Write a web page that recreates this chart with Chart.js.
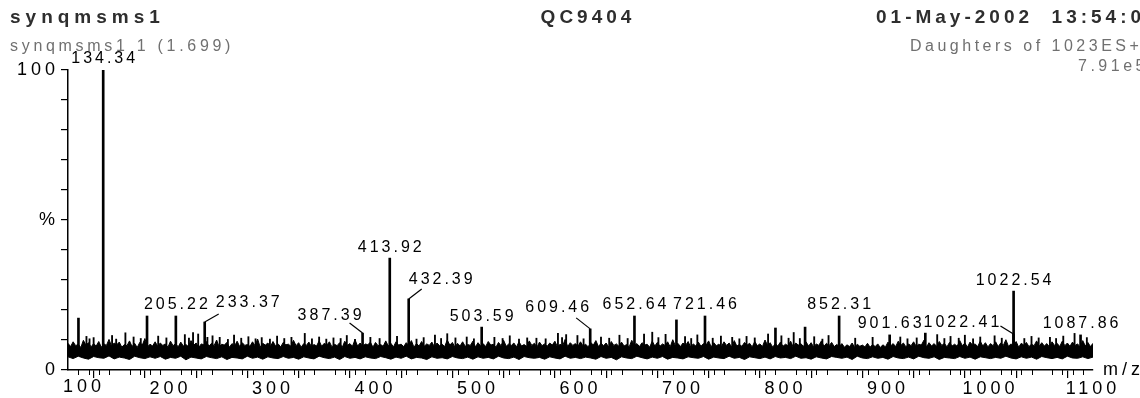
<!DOCTYPE html>
<html>
<head>
<meta charset="utf-8">
<script src="https://cdn.jsdelivr.net/npm/chart.js@4.4.1/dist/chart.umd.min.js"></script>
<style>
  html, body { margin: 0; padding: 0; background: #fff; }
  #wrap { width: 1140px; height: 398px; }
</style>
</head>
<body>
<div id="wrap"><canvas id="spectrum" width="1140" height="398"></canvas></div>
<script>
// noise band, upper edge read every 2.5 m/z from 100 to 1100
const noiseStart = 100;
const noiseTopStep = 2.5;
const noiseTop = [
  8.9, 7.8, 9.4, 8.1, 8.6, 7.5, 9.9, 8.3, 9.1, 7.7, 8.8, 8.0, 9.5, 7.6, 8.7, 8.2, 10.2, 7.9, 9.0, 8.4,
  9.3, 7.6, 8.5, 8.1, 9.7, 7.8, 8.9, 7.5, 9.2, 8.3, 10.5, 7.7, 8.6, 8.0, 9.4, 7.9, 9.0, 8.2, 8.7, 7.6,
  9.6, 8.1, 8.8, 7.7, 9.3, 8.0, 8.5, 7.8, 9.8, 8.2, 9.0, 7.5, 8.7, 8.4, 9.5, 7.9, 8.9, 8.1, 10.0, 7.7,
  8.6, 8.3, 9.2, 7.6, 8.8, 8.0, 9.6, 7.8, 9.1, 8.2, 8.5, 7.9, 9.4, 8.1, 10.3, 7.6, 8.9, 8.3, 9.0, 7.8,
  9.5, 8.0, 8.7, 7.7, 9.2, 8.4, 8.6, 7.9, 9.9, 8.1, 9.1, 7.6, 8.8, 8.2, 9.3, 7.8, 8.5, 8.0, 9.7, 7.9,
  8.9, 8.3, 9.4, 7.7, 8.6, 8.1, 9.1, 7.5, 9.6, 8.2, 8.8, 7.9, 10.1, 8.0, 9.0, 7.8, 8.7, 8.4, 9.3, 7.6,
  9.2, 8.1, 8.5, 7.9, 9.7, 8.0, 8.9, 7.7, 9.4, 8.3, 8.6, 7.8, 9.1, 8.2, 9.8, 7.6, 8.8, 8.0, 9.5, 7.9,
  8.7, 8.2, 9.3, 7.7, 9.0, 8.1, 8.6, 7.8, 10.0, 8.3, 9.2, 7.6, 8.9, 8.0, 9.4, 7.9, 8.5, 8.2, 9.6, 7.7,
  9.1, 8.0, 8.8, 7.8, 9.5, 8.3, 8.6, 7.6, 9.2, 8.1, 9.9, 7.9, 8.7, 8.2, 9.0, 7.7, 9.4, 8.0, 8.5, 7.8,
  9.7, 8.2, 8.9, 7.6, 9.3, 8.1, 8.7, 7.9, 9.0, 8.3, 9.6, 7.7, 8.6, 8.0, 10.2, 7.8, 9.1, 8.2, 8.8, 7.9,
  9.4, 8.0, 8.6, 7.7, 9.2, 8.3, 9.8, 7.8, 8.9, 8.1, 9.0, 7.6, 9.5, 8.2, 8.7, 7.9, 9.3, 8.0, 8.5, 7.7,
  9.9, 8.1, 8.8, 7.8, 9.1, 8.3, 8.6, 7.6, 9.6, 8.0, 9.2, 7.9, 8.7, 8.2, 9.4, 7.7, 10.1, 8.1, 8.9, 7.8,
  9.0, 8.2, 9.5, 7.6, 8.7, 8.0, 9.3, 7.9, 8.8, 8.3, 9.7, 7.7, 9.1, 8.1, 8.6, 7.8, 9.4, 8.2, 9.0, 7.6,
  9.8, 8.0, 8.5, 7.9, 9.2, 8.3, 8.9, 7.7, 9.5, 8.1, 8.7, 7.8, 10.0, 8.2, 9.1, 7.6, 8.8, 8.0, 9.3, 7.9,
  8.6, 8.1, 9.6, 7.7, 9.0, 8.3, 8.8, 7.8, 9.4, 8.0, 9.1, 7.6, 8.7, 8.2, 9.7, 7.9, 8.9, 8.1, 9.2, 7.8,
  8.5, 7.9, 8.8, 7.6, 8.4, 7.8, 9.0, 7.5, 8.6, 7.9, 8.3, 7.7, 8.9, 7.6, 8.5, 7.8, 8.7, 7.5, 8.4, 7.7,
  9.3, 8.0, 8.8, 7.8, 9.6, 8.2, 9.0, 7.7, 8.7, 8.1, 9.4, 7.9, 8.6, 8.3, 9.9, 7.6, 9.1, 8.0, 8.8, 7.8,
  9.5, 8.2, 8.9, 7.7, 9.2, 8.0, 8.6, 7.9, 9.8, 8.1, 9.0, 7.6, 9.3, 8.3, 8.7, 7.8, 9.6, 8.0, 9.1, 7.7,
  8.8, 8.1, 9.4, 7.8, 9.0, 8.2, 10.1, 7.9, 8.7, 8.0, 9.5, 7.6, 8.9, 8.3, 9.2, 7.8, 8.6, 8.1, 9.7, 7.9,
  9.1, 8.0, 8.8, 7.7, 9.4, 8.2, 8.9, 7.8, 9.6, 8.1, 9.0, 7.9, 9.3, 8.2, 8.7, 7.6, 9.8, 8.0, 9.2, 7.8,
  8.9
];
// noise band, lower edge read every 5 m/z
const noiseBottomStep = 5;
const noiseBottom = [
  4.4, 3.8, 4.6, 4.0, 3.6, 4.5, 4.1, 3.9, 4.7, 3.7, 4.3, 4.0, 3.5, 4.6, 4.1, 3.8, 4.4, 3.9, 4.5, 3.6,
  4.2, 3.9, 4.6, 3.4, 4.3, 4.0, 3.7, 4.5, 4.1, 3.8, 4.4, 3.5, 4.2, 4.0, 3.7, 4.6, 3.9, 4.3, 3.6, 4.4,
  4.0, 3.8, 4.5, 3.9, 4.2, 3.6, 4.4, 4.0, 3.7, 4.6, 4.1, 3.8, 4.3, 3.5, 4.5, 3.9, 4.2, 3.7, 4.4, 4.0,
  3.8, 4.5, 4.1, 3.6, 4.3, 3.9, 4.6, 3.7, 4.2, 4.0, 3.5, 4.4, 3.9, 4.1, 3.7, 4.5, 4.0, 3.8, 4.3, 3.6,
  4.4, 3.9, 4.2, 3.7, 4.6, 4.0, 3.8, 4.3, 3.5, 4.5, 4.1, 3.9, 4.2, 3.6, 4.4, 4.0, 3.7, 4.6, 3.9, 4.2,
  3.8, 4.3, 4.0, 3.6, 4.5, 3.9, 4.2, 3.4, 4.4, 4.0, 3.8, 4.6, 4.1, 3.7, 4.3, 3.9, 4.5, 3.6, 4.2, 4.0,
  3.7, 4.4, 4.1, 3.9, 4.5, 3.6, 4.3, 4.0, 3.8, 4.6, 3.9, 4.2, 3.5, 4.4, 4.1, 3.8, 4.3, 3.7, 4.5, 4.0,
  4.2, 3.8, 4.6, 3.9, 4.1, 3.6, 4.4, 4.0, 3.7, 4.5, 4.2, 3.9, 4.3, 3.5, 4.6, 4.0, 3.8, 4.4, 3.9, 4.2,
  3.6, 4.5, 4.0, 3.8, 4.3, 3.7, 4.6, 4.1, 3.9, 4.4, 3.5, 4.2, 4.0, 3.8, 4.5, 3.9, 4.3, 3.6, 4.4, 4.1,
  3.8, 4.2, 3.9, 4.6, 4.0, 3.7, 4.4, 3.9, 4.3, 3.6, 4.5, 4.1, 3.8, 4.2, 3.7, 4.6, 4.0, 3.9, 4.4, 3.8,
  4.3
];

// main peaks (m/z, % of base peak) and their labels
const peakMz = [110.2, 134.34, 177.1, 205.22, 233.37, 387.39, 413.92, 432.39, 503.59, 609.46,
  652.64, 693.6, 721.46, 790.2, 819.1, 852.31, 901.63, 936.4, 1022.41, 1022.54, 1087.86];
const peakInt = [17.3, 100, 18.0, 18.0, 16.0, 12.3, 37.3, 23.7, 14.3, 13.7,
  18.0, 16.7, 18.0, 14.0, 14.3, 18.0, 11.7, 12.3, 12.0, 26.3, 11.7];
const peakText = ['', '134.34', '', '205.22', '233.37', '387.39', '413.92', '432.39', '503.59', '609.46',
  '652.64', '', '721.46', '', '', '852.31', '901.63', '', '1022.41', '1022.54', '1087.86'];

// small spikes sticking out of the noise
const minorMz = [118, 121, 125, 143, 147, 156, 164, 171, 188, 196, 214, 218, 222, 227, 236, 241, 248, 256,
  262, 269, 276, 283, 289, 297, 304, 311, 318, 331, 338, 345, 352, 359, 366, 372, 380, 395, 404, 421,
  440, 447, 458, 464, 470, 478, 489, 496, 516, 524, 531, 540, 548, 557, 566, 578, 582, 586, 597, 603,
  620, 628, 638, 646, 662, 670, 676, 683, 702, 708, 714, 729, 737, 748, 755, 762, 770, 783, 796, 803,
  808, 814, 828, 836, 842, 868, 885, 912, 919, 928, 948, 955, 961, 969, 975, 983, 990, 1004, 1011,
  1033, 1040, 1047, 1058, 1064, 1071, 1082, 1094];
const minorInt = [11.2, 10.4, 10.8, 11.5, 10.3, 12.4, 11.0, 10.5, 11.3, 10.7, 11.8, 10.6, 12.5, 12.0, 10.9,
  11.4, 10.9, 10.2, 11.6, 10.6, 11.1, 10.4, 10.8, 10.3, 11.3, 10.5, 10.9, 12.2, 10.4, 11.0, 10.3, 10.7,
  10.5, 11.5, 10.2, 10.9, 10.5, 11.2, 10.3, 10.8, 11.6, 10.5, 12.1, 10.7, 11.0, 10.4, 10.9, 10.5, 11.4,
  10.3, 10.7, 10.6, 10.4, 12.2, 10.8, 11.8, 11.5, 10.4, 11.0, 10.6, 11.6, 10.5, 12.0, 12.6, 10.8, 11.9,
  11.1, 10.5, 11.7, 10.6, 11.3, 10.9, 10.4, 11.2, 10.7, 12.0, 11.4, 10.6, 12.5, 10.5, 11.1, 10.3, 11.5,
  10.6, 10.9, 11.0, 10.4, 10.7, 11.8, 10.5, 11.2, 10.6, 11.6, 10.4, 11.0, 11.4, 10.6, 10.5, 11.2, 10.7,
  10.9, 10.5, 11.3, 12.2, 10.8];

const xTickLabels = ['100', '200', '300', '400', '500', '600', '700', '800', '900', '1000', '1100'];
const yTickLabels = { 0: '0', 50: '%', 100: '100' };

// label placement for peaks whose text is pushed aside (px offsets from peak top)
const labelShift = {
  '233.37': { dx: 43, dy: -19, lx: 14, ly: -8 },
  '387.39': { dx: -33, dy: -18, lx: -13, ly: -10 },
  '432.39': { dx: 32, dy: -19, lx: 13, ly: -10 },
  '609.46': { dx: -33, dy: -21, lx: -14, ly: -11 },
  '1022.41': { dx: -52, dy: -11, lx: -13, ly: -8 }
};

const FONT = '"Liberation Sans", Arial, sans-serif';
const BASE = 5;

const noiseTopPts = noiseTop.map((v, i) => ({ x: noiseStart + i * noiseTopStep, y: v }));
const noiseBottomPts = noiseBottom.map((v, i) => ({ x: noiseStart + i * noiseBottomStep, y: v }));
const peakPts = peakMz.map((m, i) => ({ x: m, y: [BASE, peakInt[i]] }));
const minorPts = minorMz.map((m, i) => ({ x: m, y: [BASE, minorInt[i]] }));

function drawText(ctx, text, x, y, opts) {
  ctx.save();
  ctx.font = opts.font;
  ctx.fillStyle = opts.color || '#000';
  ctx.letterSpacing = (opts.spacing || 0) + 'px';
  ctx.textAlign = opts.align || 'left';
  ctx.textBaseline = opts.baseline || 'alphabetic';
  let dx = 0;
  if (ctx.textAlign === 'center') dx = (opts.spacing || 0) / 2;
  if (ctx.textAlign === 'right') dx = (opts.spacing || 0);
  ctx.fillText(text, x + dx, y);
  ctx.restore();
}

const spectrumDecor = {
  id: 'spectrumDecor',
  beforeDraw(chart) {
    chart.ctx.letterSpacing = '4px';
  },
  afterDraw(chart) {
    const ctx = chart.ctx;
    const xs = chart.scales.x, ys = chart.scales.y;
    const axisY = ys.getPixelForValue(0);

    // minor x ticks every 10
    ctx.save();
    ctx.strokeStyle = '#000';
    ctx.lineWidth = 1;
    ctx.beginPath();
    for (let v = 110; v < 1100; v += 10) {
      if (v % 50 === 0) continue;
      const px = Math.round(xs.getPixelForValue(v)) + 0.5;
      ctx.moveTo(px, axisY);
      ctx.lineTo(px, axisY + 5);
    }
    ctx.stroke();
    ctx.restore();

    // first x label sits to the right of the corner
    drawText(ctx, xTickLabels[0], xs.getPixelForValue(100) - 5, 387,
      { font: '18px ' + FONT, spacing: 4, baseline: 'middle' });

    // peak labels
    const lblFont = '16px ' + FONT;
    ctx.save();
    ctx.strokeStyle = '#000';
    ctx.lineWidth = 1.2;
    peakMz.forEach((m, i) => {
      const t = peakText[i];
      if (!t) return;
      const px = xs.getPixelForValue(m);
      const py = ys.getPixelForValue(peakInt[i]);
      const s = labelShift[t];
      if (s) {
        ctx.beginPath();
        ctx.moveTo(px, py);
        ctx.lineTo(px + s.lx, py + s.ly);
        ctx.stroke();
        drawText(ctx, t, px + s.dx, py + s.dy, { font: lblFont, spacing: 3, align: 'center', baseline: 'middle' });
      } else {
        drawText(ctx, t, px, py - 11, { font: lblFont, spacing: 3, align: 'center', baseline: 'middle' });
      }
    });
    ctx.restore();

    // header texts
    const bold = 'bold 19px ' + FONT;
    const gray = '16px ' + FONT;
    drawText(ctx, 'synqmsms1', 10, 23, { font: bold, color: '#2e2e2e', spacing: 5 });
    drawText(ctx, 'QC9404', 586, 23, { font: bold, color: '#2e2e2e', spacing: 4, align: 'center' });
    drawText(ctx, '01-May-2002  13:54:00', 876, 23, { font: bold, color: '#2e2e2e', spacing: 4 });
    drawText(ctx, 'synqmsms1 1 (1.699)', 10, 51, { font: gray, color: '#707070', spacing: 3.7 });
    drawText(ctx, 'Daughters of 1023ES+', 910, 51, { font: gray, color: '#707070', spacing: 3.5 });
    drawText(ctx, '7.91e5', 1078, 71, { font: gray, color: '#707070', spacing: 3.5 });

    // axis unit
    drawText(ctx, 'm/z', 1103, 375, { font: '18px ' + FONT, spacing: 4 });
  }
};

new Chart(document.getElementById('spectrum'), {
  type: 'bar',
  data: {
    datasets: [
      {
        type: 'line', data: noiseTopPts, borderColor: '#000', borderWidth: 1,
        backgroundColor: '#000', pointRadius: 0, tension: 0, fill: { value: BASE }
      },
      {
        type: 'line', data: noiseBottomPts, borderColor: '#000', borderWidth: 1,
        backgroundColor: '#000', pointRadius: 0, tension: 0, fill: { value: BASE + 1 }
      },
      { data: minorPts, backgroundColor: '#000', barThickness: 1.2, grouped: false },
      { data: peakPts, backgroundColor: '#000', barThickness: 2, grouped: false }
    ]
  },
  options: {
    responsive: false,
    animation: false,
    devicePixelRatio: 1,
    layout: { padding: { left: 0, top: 70, right: 47, bottom: 0 } },
    plugins: { legend: { display: false }, tooltip: { enabled: false } },
    scales: {
      x: {
        type: 'linear', min: 100, max: 1100, offset: false,
        afterFit(scale) { scale.height = 28; },
        border: { color: '#000', width: 1.5 },
        grid: { drawOnChartArea: false, tickLength: 8, color: '#000', lineWidth: 1.2 },
        ticks: {
          stepSize: 50, autoSkip: false, maxRotation: 0, padding: 0, color: '#000',
          font: { family: FONT, size: 18 },
          callback: v => (v !== 100 && xTickLabels.includes(String(v)) ? String(v) : '')
        }
      },
      y: {
        min: 0, max: 100,
        afterFit(scale) { scale.width = 68; },
        border: { color: '#000', width: 1.5 },
        grid: { drawOnChartArea: false, tickLength: 7, color: '#000', lineWidth: 1.2 },
        ticks: {
          stepSize: 10, autoSkip: false, padding: 2, color: '#000',
          font: { family: FONT, size: 18 },
          callback: v => yTickLabels[v] || ''
        }
      }
    }
  },
  plugins: [spectrumDecor]
});
</script>
</body>
</html>
